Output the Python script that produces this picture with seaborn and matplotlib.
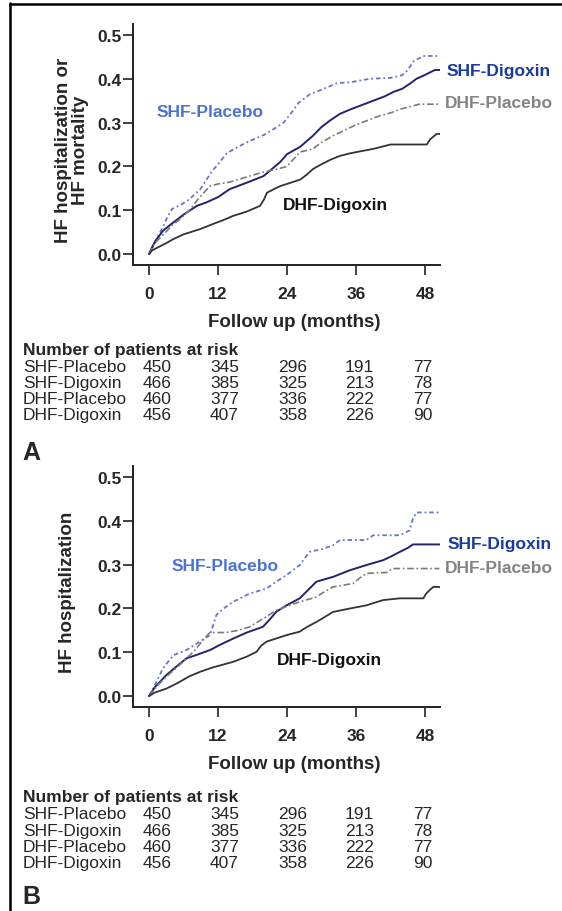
"""
Kaplan-Meier style curves (HF hospitalization / mortality) for
SHF / DHF patients on digoxin vs placebo, with numbers at risk.
"""

import matplotlib
matplotlib.use("Agg")
import matplotlib.pyplot as plt
from matplotlib.lines import Line2D
import seaborn as sns


# ══════════════════════════════════════════════════════════════════════════════
# DATA  (months, cumulative event rate)
# ══════════════════════════════════════════════════════════════════════════════

groups = ["SHF-Placebo", "SHF-Digoxin", "DHF-Placebo", "DHF-Digoxin"]
risk_months = [0, 12, 24, 36, 48]
at_risk = {
    "SHF-Placebo": [450, 345, 296, 191, 77],
    "SHF-Digoxin": [466, 385, 325, 213, 78],
    "DHF-Placebo": [460, 377, 336, 222, 77],
    "DHF-Digoxin": [456, 407, 358, 226, 90],
}

# panel A: HF hospitalization or HF mortality
a_shf_pla_t = [0, 0.5, 1, 1.5, 2.5, 3.2, 4, 5.5, 7, 8.9, 10, 11, 12, 13.5, 15.5,
               17.5, 20, 22, 23.4, 24.5, 26, 28, 30, 32.7, 35, 38.4, 42, 44,
               45, 46, 47.7, 50.6]
a_shf_pla_y = [0, 0.012, 0.025, 0.04, 0.064, 0.085, 0.103, 0.112, 0.125, 0.148,
               0.17, 0.19, 0.205, 0.23, 0.245, 0.258, 0.272, 0.288, 0.30, 0.318,
               0.345, 0.365, 0.375, 0.39, 0.392, 0.40, 0.402, 0.408, 0.42, 0.44,
               0.452, 0.452]

a_shf_dig_t = [0, 0.5, 1, 2.4, 4, 6, 8.3, 10, 12, 14, 16, 18, 19.9, 21, 22.8,
               24, 26.3, 28.5, 30, 31.5, 33.2, 35, 37, 39, 41, 42.5, 44, 45.5,
               46.5, 47.7, 49.7, 50.6]
a_shf_dig_y = [0, 0.015, 0.028, 0.053, 0.07, 0.09, 0.11, 0.118, 0.13, 0.148,
               0.158, 0.168, 0.178, 0.19, 0.21, 0.228, 0.245, 0.27, 0.29, 0.305,
               0.32, 0.33, 0.34, 0.35, 0.36, 0.37, 0.377, 0.39, 0.40, 0.407,
               0.42, 0.42]

a_dhf_pla_t = [0, 1, 2.5, 4, 5.4, 7, 8.5, 9.5, 10.6, 12, 14, 16, 18, 19.9, 22,
               24, 25, 26.3, 28.5, 30, 32, 34.4, 36, 38, 40, 42, 43.5, 45, 47,
               50.6]
a_dhf_pla_y = [0, 0.025, 0.045, 0.065, 0.08, 0.10, 0.125, 0.14, 0.155, 0.16,
               0.164, 0.172, 0.18, 0.187, 0.193, 0.20, 0.215, 0.233, 0.24, 0.255,
               0.27, 0.285, 0.295, 0.305, 0.315, 0.322, 0.33, 0.335, 0.342,
               0.342]

a_dhf_dig_t = [0, 0.5, 1.5, 3, 4.2, 6, 8.9, 11, 13, 14.6, 17, 19.3, 20, 20.5,
               22, 22.8, 26.3, 27.5, 28.5, 30, 31.5, 33.2, 35, 37, 39, 42, 48.3,
               48.9, 50, 50.6]
a_dhf_dig_y = [0, 0.008, 0.015, 0.025, 0.034, 0.045, 0.057, 0.068, 0.078, 0.087,
               0.097, 0.11, 0.125, 0.14, 0.15, 0.155, 0.17, 0.182, 0.194, 0.205,
               0.215, 0.224, 0.23, 0.235, 0.24, 0.25, 0.25, 0.262, 0.274, 0.274]

# panel B: HF hospitalization
b_shf_pla_t = [0, 1, 2.4, 4.2, 6.5, 8.8, 10.6, 11.7, 13, 14.6, 17.5, 20.4, 22,
               23.9, 26.2, 27.9, 30, 32, 33.2, 37.8, 39, 43.6, 45.3, 45.9, 46.5,
               50.5]
b_shf_pla_y = [0, 0.025, 0.063, 0.093, 0.105, 0.124, 0.139, 0.185, 0.20, 0.215,
               0.234, 0.245, 0.26, 0.276, 0.299, 0.329, 0.335, 0.344, 0.356,
               0.356, 0.367, 0.367, 0.378, 0.405, 0.419, 0.419]

b_shf_dig_t = [0, 1, 3, 5, 6.5, 8.5, 10.6, 12.5, 14.6, 17, 19.8, 21, 22.1, 23.9,
               26.2, 27.5, 29.1, 32, 34.9, 37.8, 40.7, 42, 43.6, 45, 45.9, 50.5]
b_shf_dig_y = [0, 0.02, 0.048, 0.07, 0.086, 0.095, 0.105, 0.118, 0.131, 0.145,
               0.158, 0.175, 0.192, 0.207, 0.223, 0.24, 0.261, 0.272, 0.287,
               0.299, 0.31, 0.318, 0.329, 0.338, 0.346, 0.346]

b_dhf_pla_t = [0, 1.5, 3.5, 5.9, 8, 9.5, 10.6, 13.4, 15.5, 17.5, 20.4, 22, 24,
               26.2, 29.1, 30.5, 32, 35.5, 36.5, 37.8, 41.3, 42.4, 50.5]
b_dhf_pla_y = [0, 0.025, 0.05, 0.078, 0.105, 0.13, 0.145, 0.145, 0.15, 0.158,
               0.181, 0.195, 0.205, 0.215, 0.226, 0.238, 0.249, 0.257, 0.268,
               0.28, 0.282, 0.291, 0.291]

b_dhf_dig_t = [0, 1, 3, 5, 7, 8.8, 11, 14.6, 17, 18.7, 19.5, 20.4, 23.9, 26.2,
               27.5, 29.1, 30.5, 32, 35, 37.8, 40.7, 43.6, 47.7, 48.2, 49.4, 50.5]
b_dhf_dig_y = [0, 0.008, 0.017, 0.03, 0.045, 0.055, 0.065, 0.078, 0.09, 0.101,
               0.115, 0.124, 0.139, 0.147, 0.158, 0.169, 0.18, 0.192, 0.20,
               0.207, 0.219, 0.223, 0.223, 0.234, 0.249, 0.249]


# ══════════════════════════════════════════════════════════════════════════════
# STYLE
# ══════════════════════════════════════════════════════════════════════════════

sns.set_style("ticks")
plt.rcParams["font.family"] = ["Liberation Sans", "DejaVu Sans"]

W, H = 562, 912
FS = 12.5

line_style = {
    "SHF-Placebo": dict(color="#6874c8", lw=1.3, ls=(0, (2.5, 1.6, 1, 1.6))),
    "SHF-Digoxin": dict(color="#23236f", lw=1.4, ls="-"),
    "DHF-Placebo": dict(color="#7a7a7a", lw=1.2, ls=(0, (4, 1.6, 1, 1.6))),
    "DHF-Digoxin": dict(color="#333333", lw=1.3, ls="-"),
}
label_color = {
    "SHF-Placebo": "#4b72d4",
    "SHF-Digoxin": "#1a3a9c",
    "DHF-Placebo": "#848484",
    "DHF-Digoxin": "#111111",
}


def px(x, y):
    """pixel position (from top-left) -> figure fraction"""
    return x / W, 1 - y / H


def draw_panel(fig, top_px, curves, ylabel, ylabel_x, label_pos):
    left, right, bottom = 133, 440, top_px + 241
    ax = fig.add_axes([left / W, 1 - bottom / H, (right - left) / W, 241 / H])

    for g in groups:
        t, y = curves[g]
        st = line_style[g]
        sns.lineplot(x=t, y=y, ax=ax, sort=False, estimator=None,
                     color=st["color"], linewidth=st["lw"], linestyle=st["ls"])

    ax.set_xlim(-2.8, 50.6)
    ax.set_ylim(-0.025, 0.525)
    ax.set_xticks(risk_months)
    ax.set_yticks([0.0, 0.1, 0.2, 0.3, 0.4, 0.5])
    ax.set_yticklabels([f"{v:.1f}" for v in ax.get_yticks()])
    sns.despine(ax=ax)
    for s in ("left", "bottom"):
        ax.spines[s].set_linewidth(1.4)
        ax.spines[s].set_color("#222222")
    ax.tick_params(axis="both", direction="out", length=7, width=1.2,
                   color="#222222", labelsize=FS)
    ax.tick_params(axis="y", pad=1)
    ax.tick_params(axis="x", pad=8)
    for lab in ax.get_xticklabels() + ax.get_yticklabels():
        lab.set_fontweight("bold")

    ax.set_xlabel("Follow up (months)", fontsize=13.5, fontweight="bold",
                  va="center")
    ax.xaxis.set_label_coords(0.526, -0.236)
    ax.set_ylabel(ylabel, fontsize=13.5, fontweight="bold", va="center",
                  linespacing=1.0)
    ax.yaxis.set_label_coords(ylabel_x, 0.48)

    for g, (x, y, ha) in label_pos.items():
        ax.text(x, y, g, color=label_color[g], fontsize=FS, fontweight="bold",
                ha=ha, va="center", clip_on=False)
    return ax


def risk_table(fig, head_px, letter, letter_px):
    cols_px = [143, 210, 278, 345, 413]
    fig.text(*px(23, head_px), "Number of patients at risk", fontsize=FS,
             fontweight="bold", va="center")
    for i, g in enumerate(groups):
        ypx = head_px + 17 + 16.2 * i
        fig.text(*px(23, ypx), g, fontsize=FS, va="center")
        for cx, n in zip(cols_px, at_risk[g]):
            fig.text(*px(cx, ypx), str(n), fontsize=FS, va="center")
    fig.text(*px(22, letter_px), letter, fontsize=18, fontweight="bold",
             va="center")


def main():
    fig = plt.figure(figsize=(W / 100, H / 100), dpi=100)

    curves_a = {
        "SHF-Placebo": (a_shf_pla_t, a_shf_pla_y),
        "SHF-Digoxin": (a_shf_dig_t, a_shf_dig_y),
        "DHF-Placebo": (a_dhf_pla_t, a_dhf_pla_y),
        "DHF-Digoxin": (a_dhf_dig_t, a_dhf_dig_y),
    }
    curves_b = {
        "SHF-Placebo": (b_shf_pla_t, b_shf_pla_y),
        "SHF-Digoxin": (b_shf_dig_t, b_shf_dig_y),
        "DHF-Placebo": (b_dhf_pla_t, b_dhf_pla_y),
        "DHF-Digoxin": (b_dhf_dig_t, b_dhf_dig_y),
    }

    # ── Panel A ───────────────────────────────────────────────────────────
    draw_panel(
        fig, 25, curves_a, "HF hospitalization or\nHF mortality", -0.199,
        {"SHF-Placebo": (10.6, 0.326, "center"),
         "SHF-Digoxin": (51.8, 0.42, "left"),
         "DHF-Placebo": (51.5, 0.345, "left"),
         "DHF-Digoxin": (23.3, 0.112, "left")})
    risk_table(fig, 350, "A", 453)

    # ── Panel B ───────────────────────────────────────────────────────────
    draw_panel(
        fig, 467, curves_b, "HF hospitalization", -0.212,
        {"SHF-Placebo": (13.2, 0.298, "center"),
         "SHF-Digoxin": (52.0, 0.348, "left"),
         "DHF-Placebo": (51.5, 0.293, "left"),
         "DHF-Digoxin": (22.3, 0.083, "left")})
    risk_table(fig, 798, "B", 897)

    # frame on the left and top edges of the figure
    fig.add_artist(Line2D([9.5 / W, 9.5 / W], [0, 1 - 4 / H], color="black",
                          lw=1.8, transform=fig.transFigure))
    fig.add_artist(Line2D([9.5 / W, 1], [1 - 5 / H, 1 - 5 / H], color="black",
                          lw=1.8, transform=fig.transFigure))

    fig.savefig("out.png", dpi=100, facecolor="white")
    plt.close(fig)


if __name__ == "__main__":
    main()
